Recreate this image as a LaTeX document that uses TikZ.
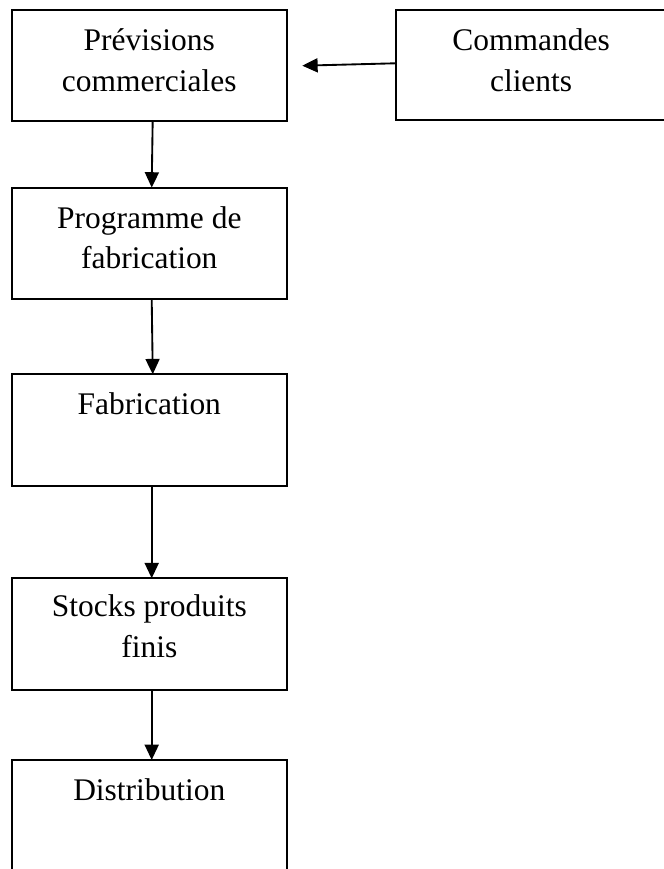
\documentclass[tikz,border=0pt]{standalone}
\usepackage{fontspec}
\setmainfont{Liberation Serif}
\usetikzlibrary{arrows.meta}
\begin{document}
\begin{tikzpicture}[x=0.75pt, y=-0.75pt,
  box/.style={draw, line width=1.5pt, rectangle, inner sep=0pt, outer sep=0pt,
    minimum width=275*0.75pt, minimum height=111.5*0.75pt},
  lbl/.style={anchor=north, align=center, inner sep=0pt, outer sep=0pt,
    font=\fontsize{23.6}{30.6}\selectfont},
  arr/.style={line width=1.4pt, -{Triangle[length=11.5pt,width=10.5pt]}}]
  \useasboundingbox (0,0) rectangle (664,869);
  \clip (0,0) rectangle (664,869);

  % process boxes
  \node[box] (prev) at (149.2,65.5) {};
  \node[box, minimum width=270.8*0.75pt, minimum height=109.5*0.75pt] (cmd) at (531.1,64.75) {};
  \node[box] (prog) at (149.3,243.3) {};
  \node[box] (fab)  at (149.3,430) {};
  \node[box] (stock) at (149.3,634) {};
  \node[box, minimum height=140*0.75pt] (dist) at (149.3,830) {};

  % labels, first baseline about 30.4pt below each box top
  \node[lbl] (prevT)  at ([yshift=-5.4pt]prev.north)  {\rule{0pt}{25pt}Prévisions\\commerciales};
  \node[lbl] (cmdT)   at ([yshift=-5.4pt]cmd.north)   {\rule{0pt}{25pt}Commandes\\clients};
  \node[lbl] (progT)  at ([yshift=-5.4pt]prog.north)  {\rule{0pt}{25pt}Programme de\\fabrication};
  \node[lbl] (fabT)   at ([yshift=-5.4pt]fab.north)   {\rule{0pt}{25pt}Fabrication};
  \node[lbl] (stockT) at ([yshift=-4.0pt]stock.north) {\rule{0pt}{25pt}Stocks produits\\finis};
  \node[lbl] (distT)  at ([yshift=-5.4pt]dist.north)  {\rule{0pt}{25pt}Distribution};

  % flow
  \coordinate (cmdTip) at (302.3,65.7);
  \draw[arr] ([yshift=1.1pt]cmd.west) -- (cmdTip);
  \draw[arr] ([xshift=2.6pt]prev.south) -- ([xshift=1.8pt]prog.north);
  \draw[arr] ([xshift=1.8pt]prog.south) -- ([xshift=2.6pt]fab.north);
  \draw[arr] ([xshift=1.8pt]fab.south) -- ([xshift=1.8pt]stock.north);
  \draw[arr] ([xshift=1.8pt]stock.south) -- ([xshift=1.8pt]dist.north);
\end{tikzpicture}
\end{document}
